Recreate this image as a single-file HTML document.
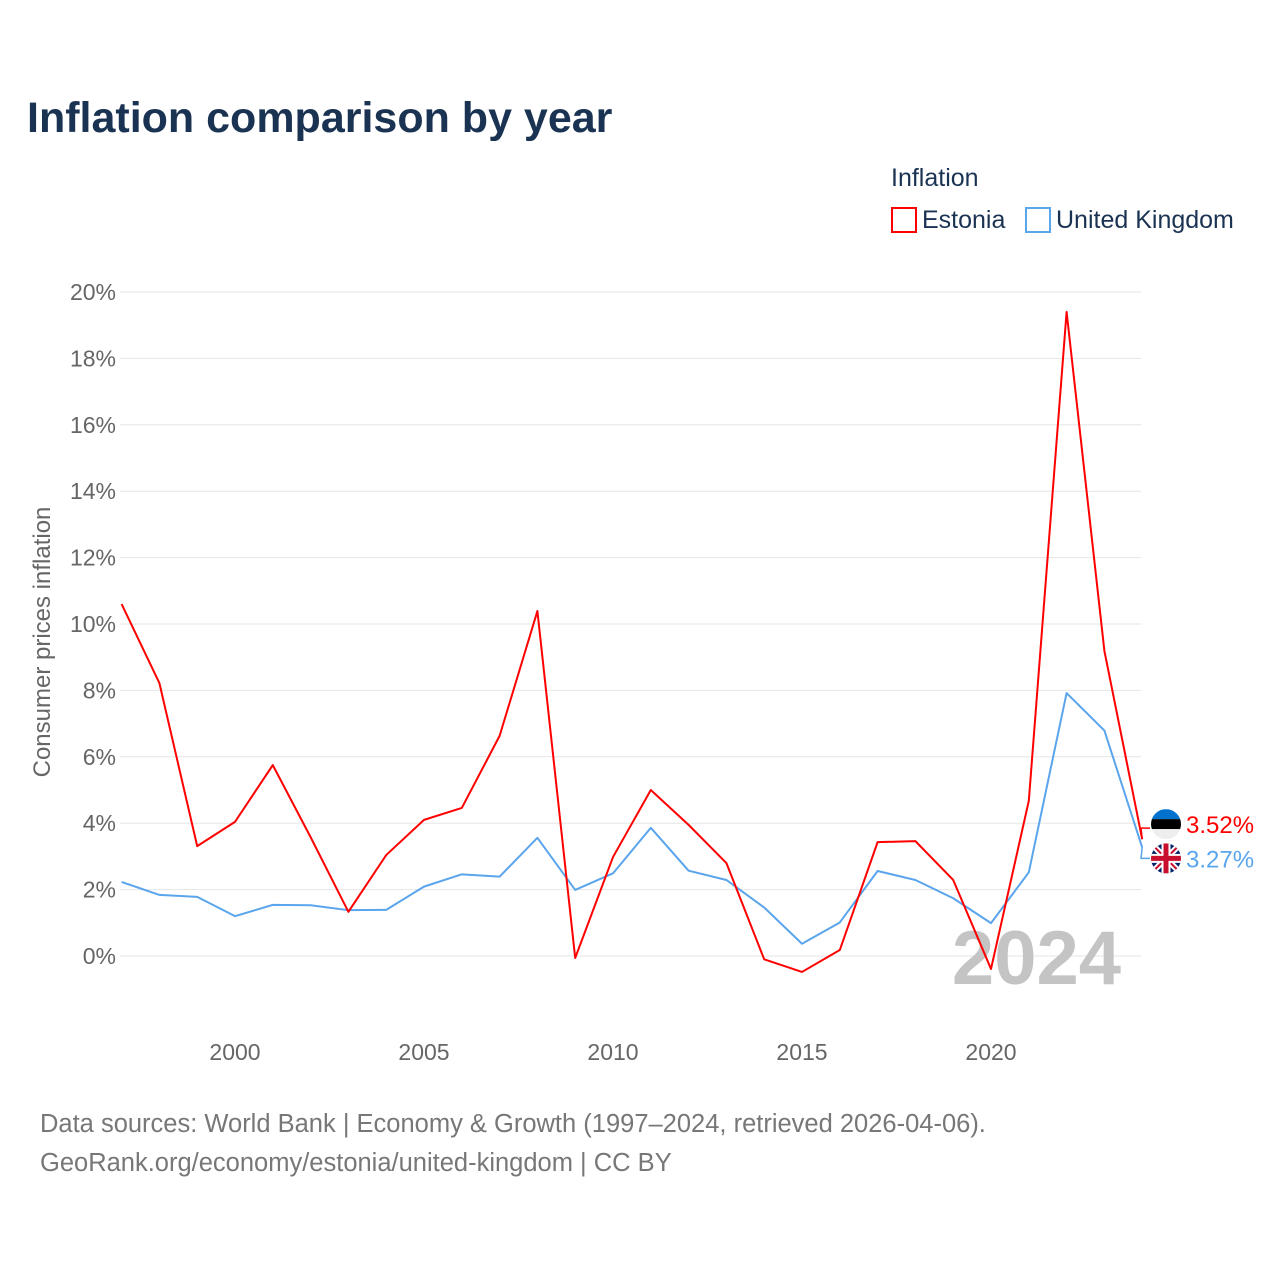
<!DOCTYPE html>
<html><head><meta charset="utf-8"><style>
body{margin:0;background:#fff;}
svg{display:block;font-family:"Liberation Sans",sans-serif;}
</style></head><body>
<svg id="chart" width="1280" height="1280" viewBox="0 0 1280 1280">
<text x="27" y="132" font-size="43" font-weight="bold" fill="#1b3353">Inflation comparison by year</text>
<text x="891" y="186" font-size="25" fill="#1b3353">Inflation</text>
<g><rect x="892" y="208" width="24" height="24" fill="none" stroke="#ff0000" stroke-width="2"/><text x="922" y="228" font-size="25" fill="#1b3353">Estonia</text></g>
<g><rect x="1026" y="208" width="24" height="24" fill="none" stroke="#5aa5ec" stroke-width="2"/><text x="1056" y="228" font-size="25" fill="#1b3353">United Kingdom</text></g>
<text transform="translate(50,642) rotate(-90)" text-anchor="middle" font-size="24" fill="#666">Consumer prices inflation</text>
<g id="grid"></g><g id="xt"></g>
<text x="1121" y="984" text-anchor="end" font-size="76" font-weight="bold" fill="#c4c4c4">2024</text>
<g id="lines"></g><g id="labels"></g>
<text x="40" y="1132" font-size="25.5" fill="#777">Data sources: World Bank | Economy &amp; Growth (1997–2024, retrieved 2026-04-06).</text>
<text x="40" y="1171" font-size="25.5" fill="#777">GeoRank.org/economy/estonia/united-kingdom | CC BY</text>
</svg>
<script>
const years=[1997,1998,1999,2000,2001,2002,2003,2004,2005,2006,2007,2008,2009,2010,2011,2012,2013,2014,2015,2016,2017,2018,2019,2020,2021,2022,2023,2024];
const estonia=[10.6,8.22,3.31,4.04,5.75,3.58,1.33,3.04,4.10,4.46,6.63,10.39,-0.06,2.98,5.0,3.95,2.8,-0.1,-0.48,0.18,3.43,3.46,2.29,-0.39,4.67,19.4,9.19,3.52];
const uk=[2.23,1.84,1.78,1.2,1.54,1.53,1.38,1.39,2.09,2.46,2.39,3.56,1.99,2.49,3.86,2.57,2.29,1.46,0.37,1.01,2.56,2.29,1.74,0.99,2.52,7.92,6.79,3.27];
const yTicks=[0,2,4,6,8,10,12,14,16,18,20];
const xTicks=[2000,2005,2010,2015,2020];
const NS="http://www.w3.org/2000/svg";
const X=y=>121.6+(y-1997)*37.8;
const Y=v=>956-v*33.2;
function mk(t,a,p){const e=document.createElementNS(NS,t);for(const k in a)e.setAttribute(k,a[k]);p.appendChild(e);return e;}
const grid=document.getElementById('grid');
yTicks.forEach(v=>{
 const l=mk('line',{x1:120,x2:1141,y1:Y(v),y2:Y(v),stroke:'#e6e6e6','stroke-width':1},grid);
 
 
 const t=mk('text',{x:116,y:Y(v)+8,'text-anchor':'end','font-size':23,fill:'#666'},grid);
 t.textContent=v+'%';
 
 
});
const xt=document.getElementById('xt');
xTicks.forEach(y=>{
 const t=mk('text',{x:X(y),y:1060,'text-anchor':'middle','font-size':23,fill:'#666'},xt);
 t.textContent=y;
 
 
});
const lines=document.getElementById('lines');
function series(d,c,n){
 const p=mk('polyline',{points:d.map((v,i)=>X(years[i])+','+Y(v)).join(' '),fill:'none',stroke:c,'stroke-width':2,'stroke-linejoin':'round'},lines);
 
 
}
series(uk,'#5aa5ec','uk');series(estonia,'#ff0000','estonia');
const lab=document.getElementById('labels');
const last=years.length-1;
const le=estonia[last],lu=uk[last];
const ye=Math.min(Y(le),Y(lu))-15,yu=Math.max(Y(le),Y(lu))+11;
mk('polyline',{points:`${X(2024)},${Y(le)} 1141,${ye+4} 1150,${ye+4}`,fill:'none',stroke:'#ff0000','stroke-width':1.5},lab);
mk('polyline',{points:`${X(2024)},${Y(lu)} 1141,${yu} 1150,${yu}`,fill:'none',stroke:'#5aa5ec','stroke-width':1.5},lab);
const fe=mk('g',{},lab);


const ce=mk('clipPath',{id:'ce'},fe);mk('circle',{cx:1166,cy:ye,r:15},ce);
const ge=mk('g',{'clip-path':'url(#ce)'},fe);
mk('rect',{x:1151,y:ye-15,width:30,height:10,fill:'#0072ce'},ge);
mk('rect',{x:1151,y:ye-5,width:30,height:10,fill:'#000'},ge);
mk('rect',{x:1151,y:ye+5,width:30,height:10,fill:'#eee'},ge);
const te=mk('text',{x:1186,y:ye+9,'font-size':24,fill:'#ff0000'},lab);
te.textContent=le.toFixed(2)+'%';


const fu=mk('g',{},lab);


const cu=mk('clipPath',{id:'cu'},fu);mk('circle',{cx:1166,cy:yu,r:15},cu);
const gu=mk('g',{'clip-path':'url(#cu)'},fu);
mk('rect',{x:1151,y:yu-15,width:30,height:30,fill:'#012169'},gu);
mk('path',{d:`M1151 ${yu-15}L1181 ${yu+15}M1181 ${yu-15}L1151 ${yu+15}`,stroke:'#fff','stroke-width':6},gu);
mk('path',{d:`M1151 ${yu-15}L1181 ${yu+15}M1181 ${yu-15}L1151 ${yu+15}`,stroke:'#c8102e','stroke-width':2},gu);
mk('path',{d:`M1166 ${yu-15}V${yu+15}M1151 ${yu}H1181`,stroke:'#fff','stroke-width':9},gu);
mk('path',{d:`M1166 ${yu-15}V${yu+15}M1151 ${yu}H1181`,stroke:'#c8102e','stroke-width':5},gu);
const tu=mk('text',{x:1186,y:yu+9,'font-size':24,fill:'#5aa5ec'},lab);
tu.textContent=lu.toFixed(2)+'%';


</script>
</body></html>
